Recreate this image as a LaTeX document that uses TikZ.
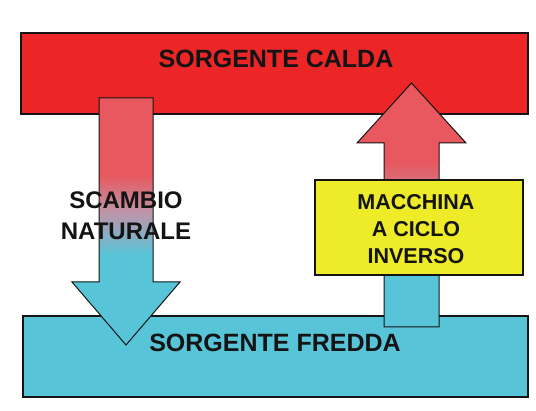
\documentclass[tikz,border=0pt]{standalone}
\usepackage{fontspec}
\setmainfont{Liberation Sans}
\usetikzlibrary{calc}
\definecolor{hotred}{RGB}{236,38,38}
\definecolor{arrred}{RGB}{232,88,94}
\definecolor{arrmid}{RGB}{188,150,170}
\definecolor{coldblue}{RGB}{88,196,216}
\definecolor{machyellow}{RGB}{238,236,40}
\definecolor{ink}{RGB}{20,20,20}
\pgfdeclareverticalshading{leftarrowshade}{100bp}{color(0bp)=(coldblue); color(43.2bp)=(coldblue); color(51.7bp)=(arrmid); color(59.5bp)=(arrred); color(100bp)=(arrred)}
\pgfdeclareverticalshading{rightarrowshade}{100bp}{color(0bp)=(coldblue); color(36bp)=(coldblue); color(47bp)=(arrmid); color(59bp)=(arrred); color(100bp)=(arrred)}
\tikzset{
  reservoir/.style={draw=ink, line width=1.5pt, rectangle, inner sep=0pt},
  bigarrow/.style={draw=ink, line width=1pt, line join=miter},
  bigtext/.style={text=ink, font=\bfseries\fontsize{25}{28}\selectfont, inner sep=0pt},
  midtext/.style={text=ink, font=\bfseries\fontsize{24}{31}\selectfont, align=center, inner sep=0pt},
  boxtext/.style={text=ink, font=\bfseries\fontsize{21.5}{27}\selectfont, align=center, inner sep=0pt}
}
\begin{document}
\begin{tikzpicture}[x=1pt, y=-1pt]
\useasboundingbox (0,0) rectangle (536,411);
\fill[white] (0,0) rectangle (536,411);
% reservoirs
\node[reservoir, fill=hotred, minimum width=507pt, minimum height=81pt] (calda) at (274.5,73.5) {};
\node[reservoir, fill=coldblue, minimum width=505pt, minimum height=81pt] (fredda) at (275.5,356.5) {};
% left arrow (natural exchange)
\coordinate (ltop) at (126,98);
\coordinate (ltip) at (126,345);
\path[bigarrow, shading=leftarrowshade]
  ($(ltop)+(-27,0)$) -- ($(ltop)+(27,0)$) -- (153,282) -- (180,282) -- (ltip) -- (72,282) -- (99,282) -- cycle;
% right arrow (reverse cycle machine)
\coordinate (rtip) at (411.5,83);
\coordinate (rbot) at (411.5,327);
\path[bigarrow, shading=rightarrowshade]
  (rtip) -- (466,143) -- (439,143) -- ($(rbot)+(27.5,0)$) -- ($(rbot)+(-27.5,0)$) -- (384,143) -- (357,143) -- cycle;
% machine box
\node[reservoir, fill=machyellow, minimum width=208pt, minimum height=95pt] (macchina) at (419,227.5) {};
% texts
\node[bigtext] (tcalda) at (276,59) {SORGENTE CALDA};
\node[bigtext] (tfredda) at (275,342.5) {SORGENTE FREDDA};
\node[midtext] (scambio) at (126,215.5) {SCAMBIO\\NATURALE};
\node[boxtext] (tmacchina) at (416,229) {MACCHINA\\A CICLO\\INVERSO};
\end{tikzpicture}
\end{document}
